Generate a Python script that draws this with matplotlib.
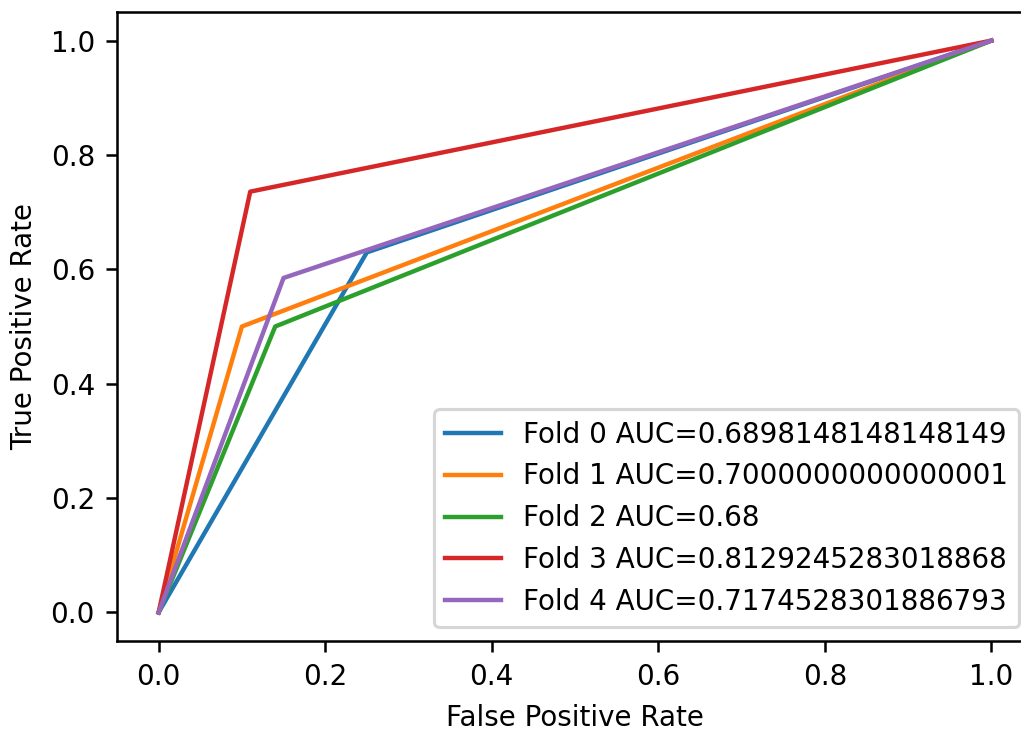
import numpy as np
import matplotlib
matplotlib.use("Agg")
import matplotlib.pyplot as plt

#=========================================DATA=========================================
# one operating point per fold (plus the (0,0) and (1,1) ends of the curve)
folds = [0, 1, 2, 3, 4]
fpr_mid = [0.25, 0.10, 0.14, 0.11, 0.15]
tpr_mid = [17/27, 0.50, 0.50, 39/53, 31/53]
auc_vals = [0.6898148148148149, 0.7000000000000001, 0.68,
            0.8129245283018868, 0.7174528301886793]

#=======================================PLOTTING=======================================
plt.rcParams["font.size"] = 8.8

fig = plt.figure(figsize=(1021/227, 736/227), dpi=227)
ax = fig.add_axes([117/1021, 95/736, 916/1021, 629/736])

for i in range(len(folds)):
    fpr = [0.0, fpr_mid[i], 1.0]
    tpr = [0.0, tpr_mid[i], 1.0]
    ax.plot(fpr, tpr, lw=1.4, label="Fold " + str(folds[i]) + " AUC=" + str(auc_vals[i]))

ax.set_xlabel("False Positive Rate")
ax.set_ylabel("True Positive Rate")
ax.legend(loc="lower right")

fig.savefig("out.png", dpi=227)
